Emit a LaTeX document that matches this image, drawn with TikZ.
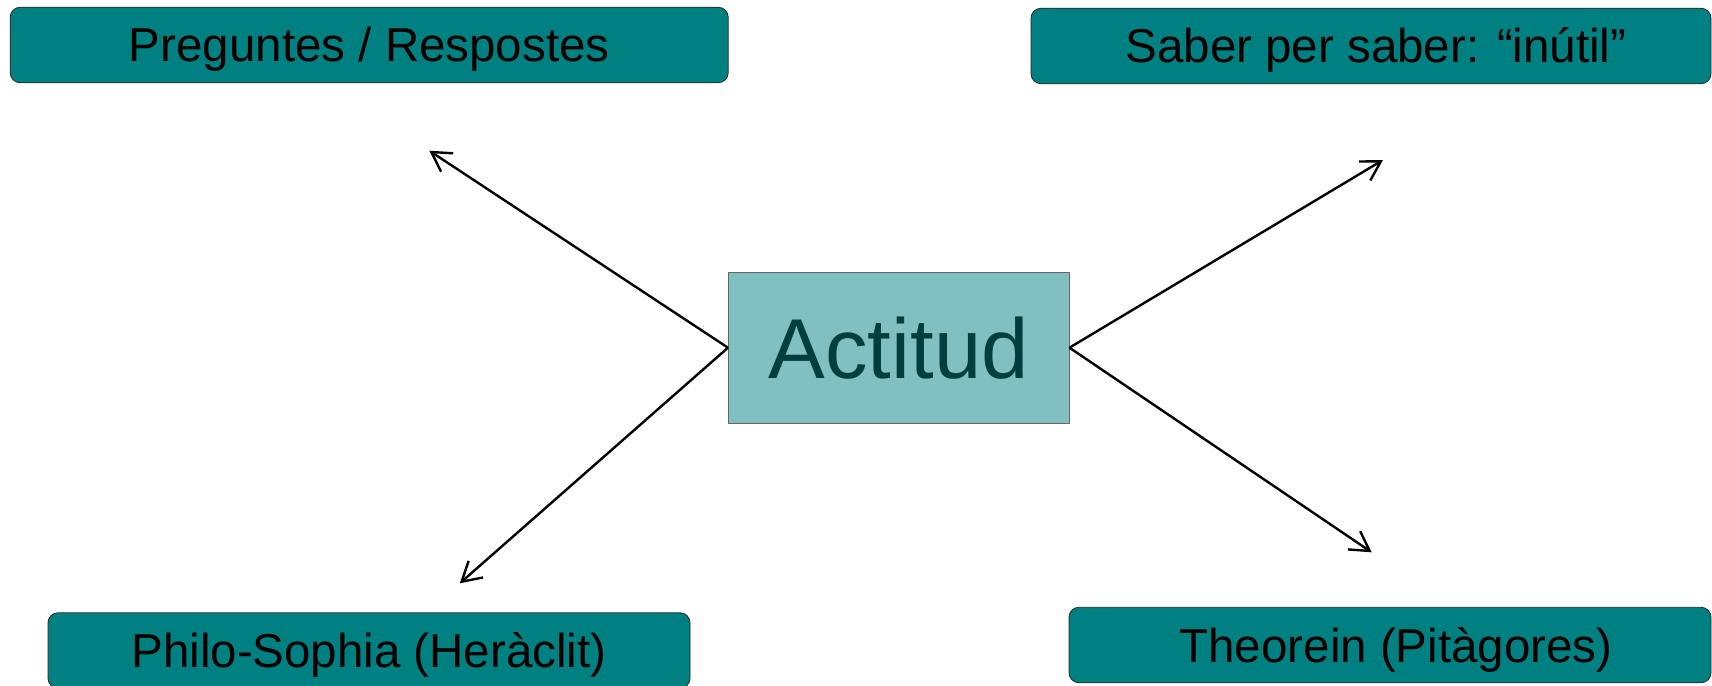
\documentclass[tikz,border=0pt]{standalone}
\usepackage{fontspec}
\setmainfont{Liberation Sans}
\usetikzlibrary{arrows.meta}
\definecolor{tealbox}{HTML}{008080}
\definecolor{teallight}{HTML}{80C0C0}
\definecolor{tealdark}{HTML}{003F3F}
\begin{document}
\begin{tikzpicture}[x=1pt,y=-1pt,
  topic/.style={draw=black!85, line width=0.8pt, fill=tealbox, rounded corners=10pt,
    inner sep=0pt, text height=34pt, text depth=0pt,
    font=\fontsize{47.5}{56}\selectfont, text=black},
  center/.style={draw=black!60, line width=0.8pt, fill=teallight, inner sep=0pt,
    text height=62pt, text depth=0pt, font=\fontsize{85}{100}\selectfont, text=tealdark},
  conn/.style={line width=2.4pt, -{Straight Barb[length=19pt,width=22pt]}}]
\useasboundingbox (0,0) rectangle (1712,685);
\node[topic, minimum width=718pt, minimum height=75.5pt] (pr) at (369.2,45) {Preguntes / Respostes};
\node[topic, minimum width=680pt, minimum height=75.5pt] (sa) at (1371,46) {\hspace*{10pt}Saber per saber: “inútil”};
\node[topic, minimum width=642pt, minimum height=75.5pt] (ph) at (369,650.5) {Philo-Sophia (Heràclit)};
\node[topic, minimum width=642pt, minimum height=75.5pt] (th) at (1390,645) {\hspace*{12pt}Theorein (Pitàgores)};
\node[center, minimum width=340.7pt, minimum height=151.3pt] (ac) at (898.7,347.7) {Actitud};
\coordinate (tpr) at (429.3,150.7);
\coordinate (tph) at (459.8,583.3);
\coordinate (tsa) at (1383,160);
\coordinate (tth) at (1371.7,552.3);
\draw[conn] (ac.west) -- (tpr);
\draw[conn] (ac.west) -- (tph);
\draw[conn] (ac.east) -- (tsa);
\draw[conn] (ac.east) -- (tth);
\end{tikzpicture}
\end{document}
